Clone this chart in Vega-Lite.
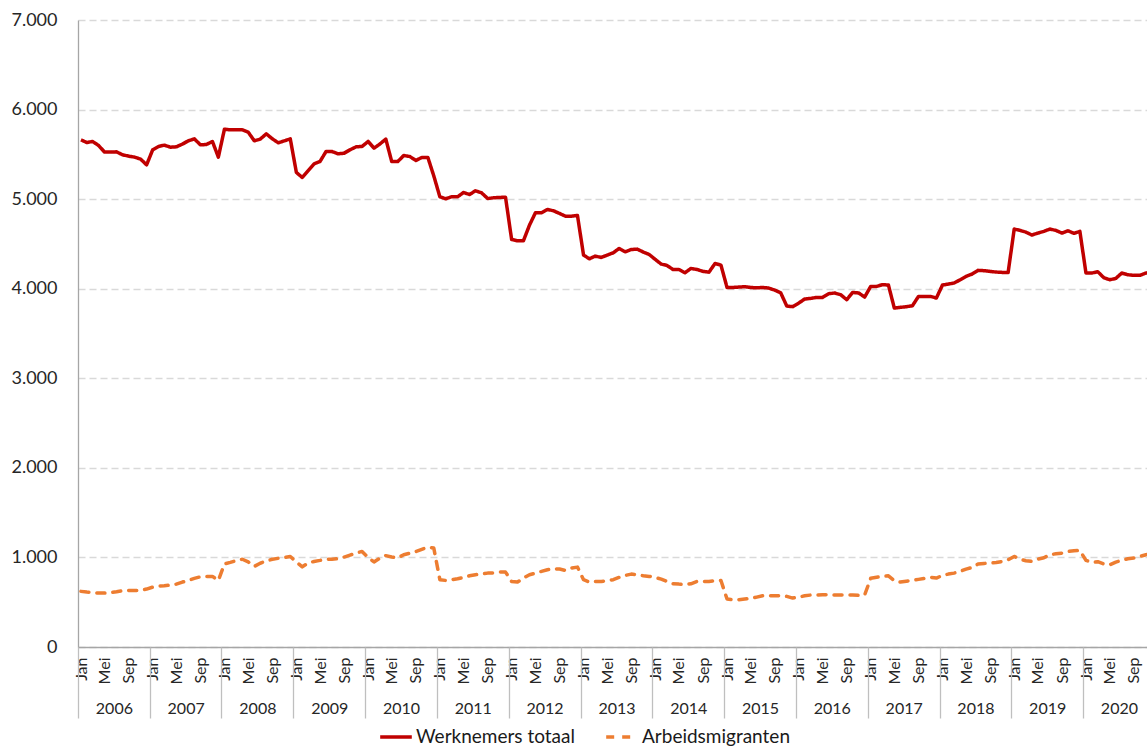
{
  "$schema": "https://vega.github.io/schema/vega-lite/v6.json",
  "width": 1069,
  "height": 627,
  "autosize": {"type": "none"},
  "padding": {"left": 78, "top": 20, "right": 0, "bottom": 102},
  "background": "white",
  "config": {
    "view": {"stroke": null},
    "font": "Lato",
    "axis": {"labelFont": "Lato", "labelColor": "#262626"},
    "legend": {"labelFont": "Lato"}
  },
  "data": {"values": [
    {"d":"2006-01-16","Werknemers totaal":5662,"Arbeidsmigranten":621},
    {"d":"2006-02-15","Werknemers totaal":5632,"Arbeidsmigranten":613},
    {"d":"2006-03-16","Werknemers totaal":5644,"Arbeidsmigranten":609},
    {"d":"2006-04-16","Werknemers totaal":5599,"Arbeidsmigranten":602},
    {"d":"2006-05-16","Werknemers totaal":5525,"Arbeidsmigranten":602},
    {"d":"2006-06-16","Werknemers totaal":5525,"Arbeidsmigranten":609},
    {"d":"2006-07-16","Werknemers totaal":5528,"Arbeidsmigranten":617},
    {"d":"2006-08-16","Werknemers totaal":5495,"Arbeidsmigranten":628},
    {"d":"2006-09-16","Werknemers totaal":5480,"Arbeidsmigranten":632},
    {"d":"2006-10-16","Werknemers totaal":5469,"Arbeidsmigranten":632},
    {"d":"2006-11-16","Werknemers totaal":5446,"Arbeidsmigranten":632},
    {"d":"2006-12-16","Werknemers totaal":5383,"Arbeidsmigranten":647},
    {"d":"2007-01-16","Werknemers totaal":5551,"Arbeidsmigranten":669},
    {"d":"2007-02-15","Werknemers totaal":5588,"Arbeidsmigranten":680},
    {"d":"2007-03-16","Werknemers totaal":5603,"Arbeidsmigranten":684},
    {"d":"2007-04-16","Werknemers totaal":5580,"Arbeidsmigranten":691},
    {"d":"2007-05-16","Werknemers totaal":5584,"Arbeidsmigranten":702},
    {"d":"2007-06-16","Werknemers totaal":5614,"Arbeidsmigranten":725},
    {"d":"2007-07-16","Werknemers totaal":5651,"Arbeidsmigranten":743},
    {"d":"2007-08-16","Werknemers totaal":5673,"Arbeidsmigranten":766},
    {"d":"2007-09-16","Werknemers totaal":5606,"Arbeidsmigranten":784},
    {"d":"2007-10-16","Werknemers totaal":5610,"Arbeidsmigranten":788},
    {"d":"2007-11-16","Werknemers totaal":5644,"Arbeidsmigranten":788},
    {"d":"2007-12-16","Werknemers totaal":5469,"Arbeidsmigranten":743},
    {"d":"2008-01-16","Werknemers totaal":5781,"Arbeidsmigranten":928},
    {"d":"2008-02-15","Werknemers totaal":5774,"Arbeidsmigranten":945},
    {"d":"2008-03-16","Werknemers totaal":5774,"Arbeidsmigranten":965},
    {"d":"2008-04-16","Werknemers totaal":5774,"Arbeidsmigranten":980},
    {"d":"2008-05-16","Werknemers totaal":5748,"Arbeidsmigranten":950},
    {"d":"2008-06-16","Werknemers totaal":5651,"Arbeidsmigranten":900},
    {"d":"2008-07-16","Werknemers totaal":5670,"Arbeidsmigranten":935},
    {"d":"2008-08-16","Werknemers totaal":5729,"Arbeidsmigranten":960},
    {"d":"2008-09-16","Werknemers totaal":5673,"Arbeidsmigranten":980},
    {"d":"2008-10-16","Werknemers totaal":5629,"Arbeidsmigranten":990},
    {"d":"2008-11-16","Werknemers totaal":5651,"Arbeidsmigranten":1000},
    {"d":"2008-12-16","Werknemers totaal":5673,"Arbeidsmigranten":1010},
    {"d":"2009-01-16","Werknemers totaal":5298,"Arbeidsmigranten":950},
    {"d":"2009-02-15","Werknemers totaal":5242,"Arbeidsmigranten":895},
    {"d":"2009-03-16","Werknemers totaal":5316,"Arbeidsmigranten":937},
    {"d":"2009-04-16","Werknemers totaal":5394,"Arbeidsmigranten":955},
    {"d":"2009-05-16","Werknemers totaal":5420,"Arbeidsmigranten":967},
    {"d":"2009-06-16","Werknemers totaal":5532,"Arbeidsmigranten":981},
    {"d":"2009-07-16","Werknemers totaal":5532,"Arbeidsmigranten":981},
    {"d":"2009-08-16","Werknemers totaal":5506,"Arbeidsmigranten":985},
    {"d":"2009-09-16","Werknemers totaal":5513,"Arbeidsmigranten":1004},
    {"d":"2009-10-16","Werknemers totaal":5551,"Arbeidsmigranten":1026},
    {"d":"2009-11-16","Werknemers totaal":5584,"Arbeidsmigranten":1048},
    {"d":"2009-12-16","Werknemers totaal":5588,"Arbeidsmigranten":1067},
    {"d":"2010-01-16","Werknemers totaal":5644,"Arbeidsmigranten":1000},
    {"d":"2010-02-15","Werknemers totaal":5569,"Arbeidsmigranten":950},
    {"d":"2010-03-16","Werknemers totaal":5614,"Arbeidsmigranten":990},
    {"d":"2010-04-16","Werknemers totaal":5670,"Arbeidsmigranten":1020},
    {"d":"2010-05-16","Werknemers totaal":5420,"Arbeidsmigranten":1005},
    {"d":"2010-06-16","Werknemers totaal":5420,"Arbeidsmigranten":995},
    {"d":"2010-07-16","Werknemers totaal":5487,"Arbeidsmigranten":1030},
    {"d":"2010-08-16","Werknemers totaal":5476,"Arbeidsmigranten":1048},
    {"d":"2010-09-16","Werknemers totaal":5432,"Arbeidsmigranten":1065},
    {"d":"2010-10-16","Werknemers totaal":5465,"Arbeidsmigranten":1090},
    {"d":"2010-11-16","Werknemers totaal":5465,"Arbeidsmigranten":1115},
    {"d":"2010-12-16","Werknemers totaal":5260,"Arbeidsmigranten":1105},
    {"d":"2011-01-16","Werknemers totaal":5026,"Arbeidsmigranten":751},
    {"d":"2011-02-15","Werknemers totaal":5004,"Arbeidsmigranten":743},
    {"d":"2011-03-16","Werknemers totaal":5026,"Arbeidsmigranten":751},
    {"d":"2011-04-16","Werknemers totaal":5026,"Arbeidsmigranten":762},
    {"d":"2011-05-16","Werknemers totaal":5074,"Arbeidsmigranten":777},
    {"d":"2011-06-16","Werknemers totaal":5052,"Arbeidsmigranten":795},
    {"d":"2011-07-16","Werknemers totaal":5093,"Arbeidsmigranten":807},
    {"d":"2011-08-16","Werknemers totaal":5071,"Arbeidsmigranten":814},
    {"d":"2011-09-16","Werknemers totaal":5007,"Arbeidsmigranten":825},
    {"d":"2011-10-16","Werknemers totaal":5015,"Arbeidsmigranten":825},
    {"d":"2011-11-16","Werknemers totaal":5019,"Arbeidsmigranten":836},
    {"d":"2011-12-16","Werknemers totaal":5022,"Arbeidsmigranten":836},
    {"d":"2012-01-16","Werknemers totaal":4550,"Arbeidsmigranten":732},
    {"d":"2012-02-15","Werknemers totaal":4535,"Arbeidsmigranten":725},
    {"d":"2012-03-16","Werknemers totaal":4535,"Arbeidsmigranten":769},
    {"d":"2012-04-16","Werknemers totaal":4710,"Arbeidsmigranten":807},
    {"d":"2012-05-16","Werknemers totaal":4847,"Arbeidsmigranten":825},
    {"d":"2012-06-16","Werknemers totaal":4847,"Arbeidsmigranten":844},
    {"d":"2012-07-16","Werknemers totaal":4885,"Arbeidsmigranten":862},
    {"d":"2012-08-16","Werknemers totaal":4870,"Arbeidsmigranten":874},
    {"d":"2012-09-16","Werknemers totaal":4840,"Arbeidsmigranten":870},
    {"d":"2012-10-16","Werknemers totaal":4810,"Arbeidsmigranten":855},
    {"d":"2012-11-16","Werknemers totaal":4810,"Arbeidsmigranten":881},
    {"d":"2012-12-16","Werknemers totaal":4818,"Arbeidsmigranten":892},
    {"d":"2013-01-16","Werknemers totaal":4375,"Arbeidsmigranten":751},
    {"d":"2013-02-15","Werknemers totaal":4334,"Arbeidsmigranten":725},
    {"d":"2013-03-16","Werknemers totaal":4364,"Arbeidsmigranten":732},
    {"d":"2013-04-16","Werknemers totaal":4349,"Arbeidsmigranten":732},
    {"d":"2013-05-16","Werknemers totaal":4375,"Arbeidsmigranten":740},
    {"d":"2013-06-16","Werknemers totaal":4401,"Arbeidsmigranten":751},
    {"d":"2013-07-16","Werknemers totaal":4449,"Arbeidsmigranten":777},
    {"d":"2013-08-16","Werknemers totaal":4412,"Arbeidsmigranten":799},
    {"d":"2013-09-16","Werknemers totaal":4438,"Arbeidsmigranten":814},
    {"d":"2013-10-16","Werknemers totaal":4442,"Arbeidsmigranten":807},
    {"d":"2013-11-16","Werknemers totaal":4409,"Arbeidsmigranten":795},
    {"d":"2013-12-16","Werknemers totaal":4382,"Arbeidsmigranten":788},
    {"d":"2014-01-16","Werknemers totaal":4327,"Arbeidsmigranten":777},
    {"d":"2014-02-15","Werknemers totaal":4275,"Arbeidsmigranten":758},
    {"d":"2014-03-16","Werknemers totaal":4260,"Arbeidsmigranten":732},
    {"d":"2014-04-16","Werknemers totaal":4215,"Arbeidsmigranten":706},
    {"d":"2014-05-16","Werknemers totaal":4215,"Arbeidsmigranten":702},
    {"d":"2014-06-16","Werknemers totaal":4178,"Arbeidsmigranten":695},
    {"d":"2014-07-16","Werknemers totaal":4226,"Arbeidsmigranten":706},
    {"d":"2014-08-16","Werknemers totaal":4215,"Arbeidsmigranten":732},
    {"d":"2014-09-16","Werknemers totaal":4193,"Arbeidsmigranten":732},
    {"d":"2014-10-16","Werknemers totaal":4185,"Arbeidsmigranten":732},
    {"d":"2014-11-16","Werknemers totaal":4282,"Arbeidsmigranten":740},
    {"d":"2014-12-16","Werknemers totaal":4263,"Arbeidsmigranten":743},
    {"d":"2015-01-16","Werknemers totaal":4014,"Arbeidsmigranten":535},
    {"d":"2015-02-15","Werknemers totaal":4014,"Arbeidsmigranten":528},
    {"d":"2015-03-16","Werknemers totaal":4018,"Arbeidsmigranten":528},
    {"d":"2015-04-16","Werknemers totaal":4022,"Arbeidsmigranten":535},
    {"d":"2015-05-16","Werknemers totaal":4014,"Arbeidsmigranten":542},
    {"d":"2015-06-16","Werknemers totaal":4010,"Arbeidsmigranten":557},
    {"d":"2015-07-16","Werknemers totaal":4014,"Arbeidsmigranten":572},
    {"d":"2015-08-16","Werknemers totaal":4007,"Arbeidsmigranten":572},
    {"d":"2015-09-16","Werknemers totaal":3984,"Arbeidsmigranten":572},
    {"d":"2015-10-16","Werknemers totaal":3954,"Arbeidsmigranten":572},
    {"d":"2015-11-16","Werknemers totaal":3806,"Arbeidsmigranten":565},
    {"d":"2015-12-16","Werknemers totaal":3800,"Arbeidsmigranten":546},
    {"d":"2016-01-16","Werknemers totaal":3840,"Arbeidsmigranten":557},
    {"d":"2016-02-15","Werknemers totaal":3885,"Arbeidsmigranten":572},
    {"d":"2016-03-16","Werknemers totaal":3892,"Arbeidsmigranten":580},
    {"d":"2016-04-16","Werknemers totaal":3903,"Arbeidsmigranten":580},
    {"d":"2016-05-16","Werknemers totaal":3903,"Arbeidsmigranten":583},
    {"d":"2016-06-16","Werknemers totaal":3944,"Arbeidsmigranten":583},
    {"d":"2016-07-16","Werknemers totaal":3952,"Arbeidsmigranten":580},
    {"d":"2016-08-16","Werknemers totaal":3933,"Arbeidsmigranten":580},
    {"d":"2016-09-16","Werknemers totaal":3877,"Arbeidsmigranten":580},
    {"d":"2016-10-16","Werknemers totaal":3959,"Arbeidsmigranten":580},
    {"d":"2016-11-16","Werknemers totaal":3952,"Arbeidsmigranten":576},
    {"d":"2016-12-16","Werknemers totaal":3907,"Arbeidsmigranten":580},
    {"d":"2017-01-16","Werknemers totaal":4026,"Arbeidsmigranten":768},
    {"d":"2017-02-15","Werknemers totaal":4026,"Arbeidsmigranten":778},
    {"d":"2017-03-16","Werknemers totaal":4045,"Arbeidsmigranten":788},
    {"d":"2017-04-16","Werknemers totaal":4041,"Arbeidsmigranten":795},
    {"d":"2017-05-16","Werknemers totaal":3784,"Arbeidsmigranten":740},
    {"d":"2017-06-16","Werknemers totaal":3792,"Arbeidsmigranten":725},
    {"d":"2017-07-16","Werknemers totaal":3799,"Arbeidsmigranten":735},
    {"d":"2017-08-16","Werknemers totaal":3810,"Arbeidsmigranten":745},
    {"d":"2017-09-16","Werknemers totaal":3914,"Arbeidsmigranten":755},
    {"d":"2017-10-16","Werknemers totaal":3914,"Arbeidsmigranten":765},
    {"d":"2017-11-16","Werknemers totaal":3914,"Arbeidsmigranten":778},
    {"d":"2017-12-16","Werknemers totaal":3896,"Arbeidsmigranten":770},
    {"d":"2018-01-16","Werknemers totaal":4041,"Arbeidsmigranten":799},
    {"d":"2018-02-15","Werknemers totaal":4052,"Arbeidsmigranten":814},
    {"d":"2018-03-16","Werknemers totaal":4063,"Arbeidsmigranten":825},
    {"d":"2018-04-16","Werknemers totaal":4100,"Arbeidsmigranten":844},
    {"d":"2018-05-16","Werknemers totaal":4138,"Arbeidsmigranten":870},
    {"d":"2018-06-16","Werknemers totaal":4164,"Arbeidsmigranten":888},
    {"d":"2018-07-16","Werknemers totaal":4205,"Arbeidsmigranten":926},
    {"d":"2018-08-16","Werknemers totaal":4201,"Arbeidsmigranten":933},
    {"d":"2018-09-16","Werknemers totaal":4193,"Arbeidsmigranten":937},
    {"d":"2018-10-16","Werknemers totaal":4186,"Arbeidsmigranten":944},
    {"d":"2018-11-16","Werknemers totaal":4182,"Arbeidsmigranten":955},
    {"d":"2018-12-16","Werknemers totaal":4182,"Arbeidsmigranten":974},
    {"d":"2019-01-16","Werknemers totaal":4666,"Arbeidsmigranten":1011},
    {"d":"2019-02-15","Werknemers totaal":4651,"Arbeidsmigranten":981},
    {"d":"2019-03-16","Werknemers totaal":4632,"Arbeidsmigranten":963},
    {"d":"2019-04-16","Werknemers totaal":4599,"Arbeidsmigranten":955},
    {"d":"2019-05-16","Werknemers totaal":4621,"Arbeidsmigranten":981},
    {"d":"2019-06-16","Werknemers totaal":4640,"Arbeidsmigranten":996},
    {"d":"2019-07-16","Werknemers totaal":4666,"Arbeidsmigranten":1030},
    {"d":"2019-08-16","Werknemers totaal":4651,"Arbeidsmigranten":1041},
    {"d":"2019-09-16","Werknemers totaal":4621,"Arbeidsmigranten":1048},
    {"d":"2019-10-16","Werknemers totaal":4647,"Arbeidsmigranten":1067},
    {"d":"2019-11-16","Werknemers totaal":4618,"Arbeidsmigranten":1074},
    {"d":"2019-12-16","Werknemers totaal":4640,"Arbeidsmigranten":1078},
    {"d":"2020-01-16","Werknemers totaal":4175,"Arbeidsmigranten":967},
    {"d":"2020-02-15","Werknemers totaal":4175,"Arbeidsmigranten":944},
    {"d":"2020-03-16","Werknemers totaal":4190,"Arbeidsmigranten":952},
    {"d":"2020-04-16","Werknemers totaal":4123,"Arbeidsmigranten":926},
    {"d":"2020-05-16","Werknemers totaal":4100,"Arbeidsmigranten":918},
    {"d":"2020-06-16","Werknemers totaal":4115,"Arbeidsmigranten":948},
    {"d":"2020-07-16","Werknemers totaal":4175,"Arbeidsmigranten":967},
    {"d":"2020-08-16","Werknemers totaal":4156,"Arbeidsmigranten":985},
    {"d":"2020-09-16","Werknemers totaal":4149,"Arbeidsmigranten":993},
    {"d":"2020-10-16","Werknemers totaal":4149,"Arbeidsmigranten":1011},
    {"d":"2020-11-16","Werknemers totaal":4175,"Arbeidsmigranten":1030},
    {"d":"2020-12-16","Werknemers totaal":4185,"Arbeidsmigranten":1040}
  ]},
  "transform": [{"fold": ["Werknemers totaal", "Arbeidsmigranten"], "as": ["s", "v"]}],
  "encoding": {
    "y": {
      "field": "v", "type": "quantitative",
      "scale": {"domain": [0, 7000], "nice": false, "zero": true},
      "axis": {
        "title": null,
        "values": [0, 1000, 2000, 3000, 4000, 5000, 6000, 7000],
        "labelExpr": "replace(format(datum.value, ','), ',', '.')",
        "domain": true, "domainColor": "#A6A6A6", "domainWidth": 1.3,
        "ticks": false, "tickSize": 0,
        "labelPadding": 21, "labelFontSize": 18,
        "grid": true, "gridColor": "#D9D9D9", "gridDash": [7, 4], "gridWidth": 1.3
      }
    },
    "color": {
      "field": "s", "type": "nominal",
      "scale": {"domain": ["Werknemers totaal", "Arbeidsmigranten"], "range": ["#C00000", "#ED7D31"]},
      "legend": {
        "orient": "none", "legendX": 300, "legendY": 699, "direction": "horizontal",
        "title": null, "padding": 0, "symbolType": "stroke", "symbolSize": 1000,
        "symbolStrokeWidth": 3.5, "labelFontSize": 19, "labelColor": "#1a1a1a",
        "columnPadding": 24, "labelOffset": 2
      }
    },
    "strokeDash": {
      "field": "s", "type": "nominal",
      "scale": {"domain": ["Werknemers totaal", "Arbeidsmigranten"], "range": [[1, 0], [8, 8]]},
      "legend": {
        "orient": "none", "legendX": 300, "legendY": 699, "direction": "horizontal",
        "title": null, "padding": 0, "symbolType": "stroke", "symbolSize": 1000,
        "symbolStrokeWidth": 3.5, "labelFontSize": 19, "labelColor": "#1a1a1a",
        "columnPadding": 24, "labelOffset": 2
      }
    }
  },
  "layer": [
    {
      "transform": [{"filter": "datum.s == 'Werknemers totaal'"}],
      "mark": {"type": "line", "strokeWidth": 3.5, "clip": true, "strokeJoin": "round"},
      "encoding": {
        "x": {
          "field": "d", "type": "temporal",
          "scale": {"domain": [{"year": 2006, "month": 1, "date": 1}, {"year": 2020, "month": 11, "date": 21, "hours": 12}]},
          "axis": {
            "orient": "bottom", "title": null,
            "tickCount": {"interval": "month", "step": 4},
            "labelExpr": "['Jan','Feb','Mrt','Apr','Mei','Jun','Jul','Aug','Sep','Okt','Nov','Dec'][month(datum.value)]",
            "labelAngle": -90, "labelAlign": "right", "labelBaseline": "middle",
            "labelOffset": 3, "labelPadding": 10, "labelFontSize": 16,
            "ticks": false, "tickSize": 0,
            "domain": true, "domainColor": "#A6A6A6", "domainWidth": 1.3,
            "grid": false, "labelFlush": false, "labelOverlap": false, "labelBound": false
          }
        }
      }
    },
    {
      "transform": [{"filter": "datum.s == 'Arbeidsmigranten'"}],
      "mark": {"type": "line", "strokeWidth": 3.5, "clip": true, "strokeCap": "round", "strokeJoin": "round"},
      "encoding": {
        "x": {
          "field": "d", "type": "temporal",
          "axis": {
            "orient": "bottom", "title": null,
            "tickCount": {"interval": "year", "step": 1},
            "format": "%Y",
            "labelOffset": 35.9, "labelPadding": -10, "labelFontSize": 16,
            "labelAlign": "center", "labelBaseline": "middle", "labelAngle": 0,
            "ticks": true, "tickSize": 71, "tickColor": "#BFBFBF", "tickWidth": 1.3,
            "domain": false, "grid": false,
            "labelFlush": false, "labelOverlap": false, "labelBound": false
          }
        }
      }
    }
  ],
  "resolve": {"axis": {"x": "independent"}}
}
